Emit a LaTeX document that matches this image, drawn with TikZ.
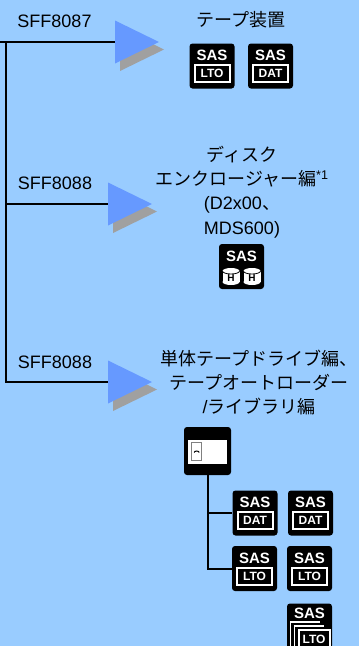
\documentclass[tikz,border=0pt]{standalone}
\usepackage{fontspec}
\setmainfont{Liberation Sans}
\newfontfamily\jp{Noto Sans CJK JP}
\usetikzlibrary{calc}
\definecolor{bgblue}{HTML}{99CCFF}
\definecolor{arrowblue}{HTML}{6699FF}
\definecolor{shadowgray}{HTML}{A0A0A0}
\definecolor{doorgray}{HTML}{808080}
\tikzset{
  wire/.style={line width=2pt, draw=black},
  lbl/.style={font=\fontsize{18}{24.2}\selectfont, inner sep=0pt, align=center},
  iconbox/.style={fill=black, rounded corners=3pt, minimum width=45pt, minimum height=45pt, inner sep=0pt},
  sastext/.style={text=white, font=\fontsize{15}{15}\selectfont\bfseries, inner sep=0pt},
  tagtext/.style={text=white, font=\fontsize{12}{12}\selectfont\bfseries, inner sep=0pt},
  hddtext/.style={text=black, font=\fontsize{10}{10}\selectfont\bfseries, inner sep=0pt},
  tagframe/.style={draw=white, line width=2pt},
  cardline/.style={draw=white, line width=1.4pt},
  feedarrow/.pic={
    \fill[shadowgray] (5,-14) -- (49,7.5) -- (5,29) -- cycle;
    \fill[arrowblue] (0,-21.5) -- (44,0) -- (0,21.5) -- cycle;
  },
  sasbox/.pic={
    \node[iconbox] (-box) at (0,0) {};
    \node[sastext] at (0,-10.5) {SAS};
    \draw[tagframe] (-17.5,-1) rectangle (17.5,16);
    \node[tagtext] at (0,7.5) {#1};
  },
  hddbox/.pic={
    \node[iconbox] (-box) at (0,0) {};
    \node[sastext] at (0,-10.5) {SAS};
    \foreach \cx in {-10.5,10.5} {
      \fill[white] (\cx-8.5,4.5) rectangle (\cx+8.5,15.5);
      \fill[white] (\cx,4.5) ellipse[x radius=8.5,y radius=3];
      \fill[white] (\cx,15.5) ellipse[x radius=8.5,y radius=3];
      \draw[black, line width=0.8pt] (\cx-8.5,4.5) arc[start angle=180,end angle=0,x radius=8.5,y radius=3];
      \node[hddtext] at (\cx,12) {H};
    }
  },
  multibox/.pic={
    \node[iconbox] (-box) at (0,0) {};
    \node[sastext] at (0,-13) {SAS};
    \draw[cardline] (-19,23) -- (-19,-4) -- (10,-4);
    \draw[cardline] (-15.3,23) -- (-15.3,0) -- (14.5,0);
    \draw[tagframe] (-11,4) rectangle (20,24);
    \node[tagtext] at (4.5,13.5) {LTO};
  },
  libbox/.pic={
    \node[iconbox, minimum width=47pt, minimum height=48pt] (-box) at (0,0) {};
    \fill[white] (-19.2,-11) rectangle (19.2,13.3);
    \draw[doorgray, line width=1pt, fill=white] (-16,-8.2) rectangle (-5.7,9.5);
    \draw[black, line width=1pt] (-13.3,1.5) arc[start angle=180,end angle=360,x radius=2.5,y radius=1.5];
  },
}
\begin{document}
\begin{tikzpicture}[x=1pt,y=-1pt]
\fill[bgblue] (0,0) rectangle (359,646);
\useasboundingbox (0,0) rectangle (359,646);

% trunk
\coordinate (t0) at (0,42);
\coordinate (tc) at (6,42);
\coordinate (a1) at (115,42);
\coordinate (a2) at (108,204);
\coordinate (a3) at (108,382);
\coordinate (b2) at (tc |- a2);
\coordinate (b3) at (tc |- a3);
\draw[wire] (t0) -- (a1);
\draw[wire] (tc) -- (b3) -- (a3);
\draw[wire] (b2) -- (a2);
\pic at (a1) {feedarrow};
\pic at (a2) {feedarrow};
\pic at (a3) {feedarrow};

% labels
\node[lbl] (sff1) at (54.5,21) {SFF8087};
\node[lbl] (sff2) at (55,183) {SFF8088};
\node[lbl] (sff3) at (55,362) {SFF8088};

\node[lbl] (dev1) at (241,20) {{\jp テープ装置}};
\node[lbl] (dev2) at (242,192) {{\jp ディスク}\\{\jp エンクロージャー編}\textsuperscript{*1}\\(D2x00{\jp 、}\\MDS600)};
\node[lbl] (dev3) at (259,382.5) {{\jp 単体テープドライブ編、}\\{\jp テープオートローダー}\\/{\jp ライブラリ編}};

% icons
\pic (lto0) at (212,66) {sasbox=LTO};
\pic (dat0) at (270.5,66) {sasbox=DAT};
\pic (hdd) at (241.5,266.5) {hddbox};
\pic (lib) at (207.5,451) {libbox};
\pic (dat1) at (255,513) {sasbox=DAT};
\pic (dat2) at (310.5,513) {sasbox=DAT};
\pic (lto1) at (254.5,568.5) {sasbox=LTO};
\pic (lto2) at (309.5,568.5) {sasbox=LTO};
\pic (mlto) at (309.5,626) {multibox};

% library connectors
\coordinate (j1) at (lib-box.south |- dat1-box.west);
\coordinate (j2) at (lib-box.south |- lto1-box.west);
\draw[wire] (lib-box.south) -- (j2) -- (lto1-box.west);
\draw[wire] (j1) -- (dat1-box.west);
\end{tikzpicture}
\end{document}
